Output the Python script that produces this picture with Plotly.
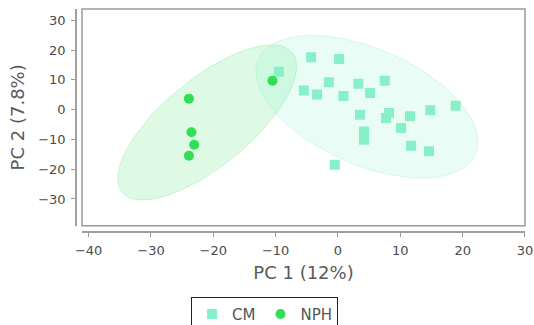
import numpy as np
import plotly.graph_objects as go

# ---- data ----
cm_x = [-9.49, -4.31, 0.18, -1.47, -5.48, -3.35, 0.87, 3.27, 5.15, 7.5, 3.54,
        8.19, 7.71, 11.56, 14.81, 18.88, 10.11, 4.18, 4.18, 11.73, 14.6, -0.51]
cm_y = [12.7, 17.6, 17.0, 9.2, 6.4, 5.1, 4.6, 8.7, 5.6, 9.7, -1.7,
        -1.1, -2.8, -2.25, -0.2, 1.3, -6.15, -7.3, -10.1, -12.1, -14.0, -18.5]
nph_x = [-23.91, -23.5, -23.07, -23.91, -10.51]
nph_y = [3.7, -7.6, -11.8, -15.5, 9.7]

x_ticks = [-40, -30, -20, -10, 0, 10, 20, 30]
y_ticks = [-30, -20, -10, 0, 10, 20, 30]

CM_COLOR = "rgb(135,240,200)"
NPH_COLOR = "rgb(50,222,88)"


def conf_ellipse(x, y, level=0.95, n=200):
    x = np.asarray(x, float)
    y = np.asarray(y, float)
    cov = np.cov(x, y)
    vals, vecs = np.linalg.eigh(cov)
    t = np.sqrt(-2 * np.log(1 - level))
    th = np.linspace(0, 2 * np.pi, n)
    circ = np.vstack([np.cos(th), np.sin(th)])
    pts = vecs @ (np.sqrt(vals)[:, None] * circ) * t
    return pts[0] + x.mean(), pts[1] + y.mean()


fig = go.Figure()

ex, ey = conf_ellipse(nph_x, nph_y)
fig.add_trace(go.Scatter(x=ex, y=ey, mode="lines", fill="toself",
                         fillcolor="rgba(50,222,88,0.16)",
                         line=dict(color="rgba(50,222,88,0.22)", width=1),
                         showlegend=False, hoverinfo="skip"))
ex, ey = conf_ellipse(cm_x, cm_y)
fig.add_trace(go.Scatter(x=ex, y=ey, mode="lines", fill="toself",
                         fillcolor="rgba(135,240,200,0.18)",
                         line=dict(color="rgba(135,240,200,0.3)", width=1),
                         showlegend=False, hoverinfo="skip"))

fig.add_trace(go.Scatter(x=cm_x, y=cm_y, mode="markers", name="CM",
                         marker=dict(symbol="square", size=10, color=CM_COLOR)))
fig.add_trace(go.Scatter(x=nph_x, y=nph_y, mode="markers", name="NPH",
                         marker=dict(symbol="circle", size=10, color=NPH_COLOR)))

# frame around plot area
fig.add_shape(type="rect", xref="x domain", yref="y domain", x0=0, x1=1, y0=0, y1=1,
              line=dict(color="#9a9a9a", width=1.5), layer="above")

tickfont = dict(family="DejaVu Sans", size=13, color="#4a4a4a")
titlefont = dict(family="DejaVu Sans", size=18, color="#5a5a5a")

fig.update_layout(
    width=534, height=325,
    margin=dict(l=76, r=9, t=9, b=93, autoexpand=False),
    paper_bgcolor="white", plot_bgcolor="white",
    xaxis=dict(range=[-41.06, 30], domain=[0.0134, 1], anchor="free", position=0,
               tickvals=x_ticks, ticks="outside", ticklen=4, tickcolor="#999999",
               ticklabelstandoff=3,
               showline=True, linecolor="#a0a0a0", linewidth=1.5,
               showgrid=False, zeroline=False, tickfont=tickfont, automargin=False,
               title=dict(text="PC 1 (12%)", font=titlefont, standoff=8)),
    yaxis=dict(range=[-38.97, 33.8], domain=[0.0283, 1], anchor="free", position=0,
               tickvals=y_ticks, ticks="outside", ticklen=4, tickcolor="#999999",
               ticklabelstandoff=3,
               showline=True, linecolor="#a0a0a0", linewidth=1.5,
               showgrid=False, zeroline=False, tickfont=tickfont, automargin=False,
               title=dict(text="PC 2 (7.8%)", font=titlefont, standoff=8)),
    legend=dict(orientation="h", x=0.42, xanchor="center", y=-0.29, yanchor="top",
                bordercolor="#222222", borderwidth=1,
                font=dict(family="DejaVu Sans", size=15, color="#555555"),
                itemwidth=30),
    showlegend=True,
)

fig.write_html("out.html")
